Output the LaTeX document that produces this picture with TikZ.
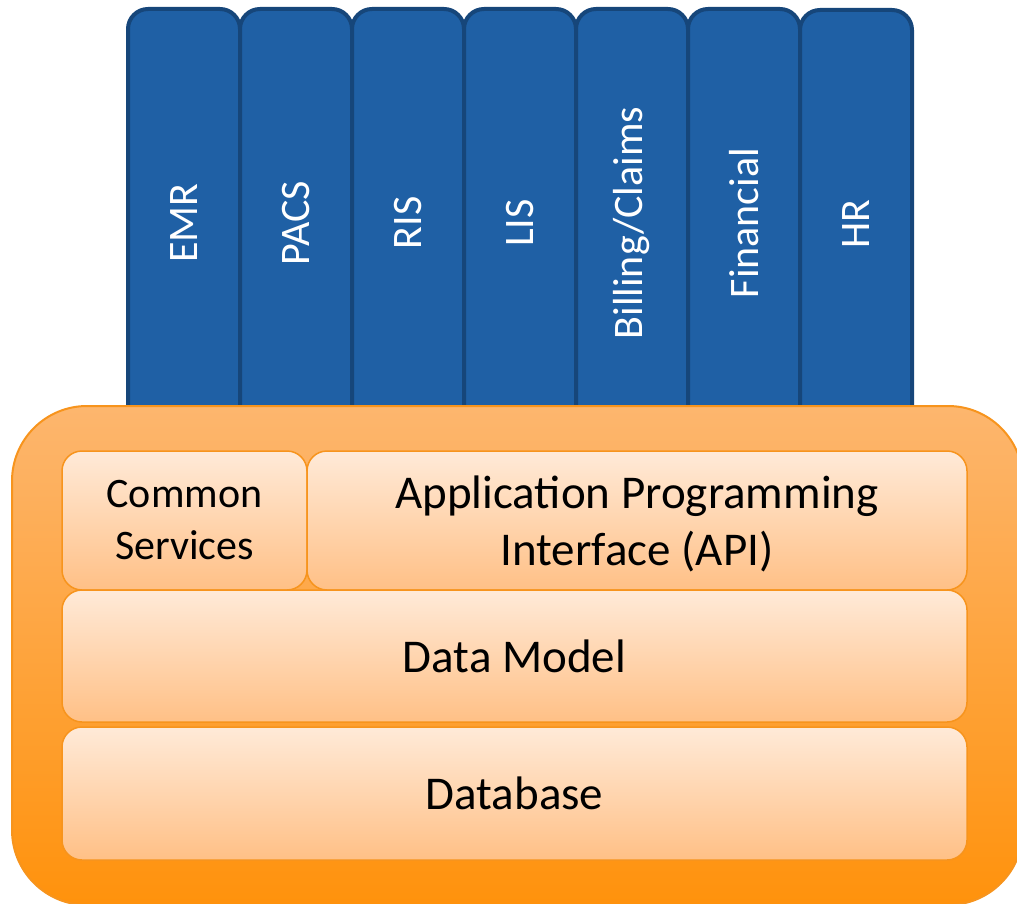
\documentclass[tikz,border=0pt]{standalone}
\usepackage{fontspec}
\setmainfont{Carlito}
\usepackage{tikz}
\usetikzlibrary{positioning}
\definecolor{tabblue}{RGB}{31,96,165}
\definecolor{tabedge}{RGB}{22,70,122}
\definecolor{frameedge}{RGB}{247,148,29}
\definecolor{frametop}{RGB}{253,182,110}
\definecolor{framebot}{RGB}{255,146,12}
\definecolor{layertop}{RGB}{255,234,216}
\definecolor{layerbot}{RGB}{255,192,134}

\begin{document}
\begin{tikzpicture}[x=1pt, y=-1pt,
		tab/.style={rectangle, rounded corners=20pt, draw=tabedge, line width=4pt, fill=tabblue,
			rotate=90, minimum width=428pt, minimum height=112pt, inner sep=0pt,
			text=white, font=\fontsize{42}{50}\selectfont},
		frame/.style={rectangle, rounded corners=75pt, draw=frameedge, line width=2pt,
			top color=frametop, bottom color=framebot, minimum width=1011pt, minimum height=499pt},
		layer/.style={rectangle, rounded corners=20pt, draw=frameedge, line width=1.5pt,
			top color=layertop, bottom color=layerbot, inner sep=0pt, align=center,
			font=\fontsize{47}{57}\selectfont}
		]
		\useasboundingbox (0,0) rectangle (1017,904);
		
		% Les applications
		\node[tab] (emr) at (184,223) {EMR};
		\node[tab] (pacs) at (296,223) {PACS};
		\node[tab] (ris) at (408,223) {RIS};
		\node[tab] (lis) at (520,223) {LIS};
		\node[tab] (billing) at (632,223) {Billing/Claims};
		\node[tab] (financial) at (744,223) {Financial};
		\node[tab] (hr) at (856,224) {HR};
		
		% Le socle
		\node[frame] (platform) at (517.5,655.5) {};
		
		% Les couches
		\node[layer, minimum width=245pt, minimum height=139pt, font=\fontsize{42}{52}\selectfont] (services) at (184.5,520.5) {Common\\Services};
		\node[layer, minimum width=660pt, minimum height=139pt] (api) at (637,520.5) {\rule{0pt}{40pt}Application Programming\\Interface (API)};
		\node[layer, minimum width=905pt, minimum height=132pt] (model) at (514.5,656) {Data Model};
		\node[layer, minimum width=905pt, minimum height=133pt] (database) at (514.5,793.5) {Database};
	\end{tikzpicture}
\end{document}
